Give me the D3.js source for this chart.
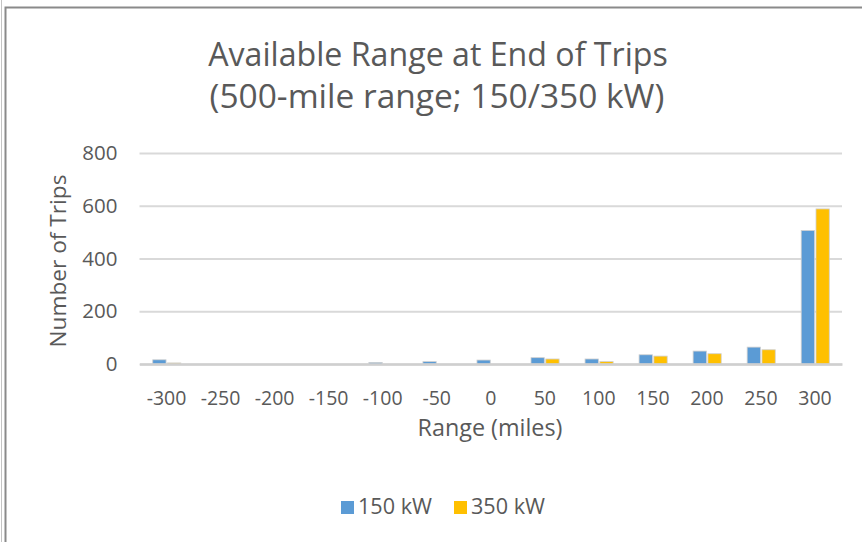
<!DOCTYPE html>
<html><head><meta charset="utf-8">
<script src="https://cdn.jsdelivr.net/npm/d3@7"></script>
<style>
html,body{margin:0;padding:0;background:#fff;}
svg{display:block;}
text{font-family:"Open Sans",Lato,sans-serif;fill:#595959;}
</style></head>
<body>
<svg id="chart" width="862" height="542"></svg>
<script>
const categories = ["-300","-250","-200","-150","-100","-50","0","50","100","150","200","250","300"];
const seriesNames = ["150 kW","350 kW"];
const values150 = [16,0,0,0,6,9,15,24,19,35,49,64,506];
const values350 = [4,0,0,0,0,0,0,19,9,30,39,54,588];
const yTicks = [0,200,400,600,800];
const titleLines = ["Available Range at End of Trips","(500-mile range; 150/350 kW)"];
const xTitle = "Range (miles)";
const yTitle = "Number of Trips";
const colors = ["#5B9BD5","#FFC000"];

const svg = d3.select("#chart");
const W = 862, H = 542;

// frame
svg.append("line").attr("x1",1.5).attr("x2",1.5).attr("y1",0).attr("y2",H).attr("stroke","#c4c4c4").attr("stroke-width",1);
svg.append("path").attr("d",`M5.5,${H}V7.5H${W}`).attr("fill","none").attr("stroke","#8a8a8a").attr("stroke-width",2);

function fit(sel, target){
  const w = sel.node().getComputedTextLength();
  const fs = parseFloat(sel.attr("font-size"));
  sel.attr("font-size", fs*target/w);
}

// title
const t1 = svg.append("text").attr("x",438).attr("y",66).attr("text-anchor","middle").attr("font-size",30).text(titleLines[0]);
fit(t1, 460);
const t2 = svg.append("text").attr("x",437).attr("y",108).attr("text-anchor","middle").attr("font-size",30).text(titleLines[1]);
fit(t2, 455);

const plot = {left:139.5, right:842, top:153, bottom:364};
const y = d3.scaleLinear().domain([0,800]).range([plot.bottom, plot.top]);
const x = d3.scaleBand().domain(categories).range([plot.left, plot.right]).padding(0);
const bw = x.bandwidth();
const x1 = d3.scaleBand().domain(seriesNames).range([bw*0.245, bw*0.765]).paddingInner(0.1);

// gridlines
const yAxis = d3.axisLeft(y).tickValues(yTicks).tickSize(-(plot.right-plot.left)).tickPadding(22);
const gy = svg.append("g").attr("transform",`translate(${plot.left},0)`).call(yAxis);
gy.select(".domain").remove();
gy.selectAll(".tick line").attr("stroke","#d9d9d9").attr("stroke-width",2);
gy.selectAll(".tick text").attr("font-size",20.5).attr("fill","#595959").attr("font-family","'Open Sans',sans-serif");

// bars
const data = [values150, values350];
data.forEach((vals,si)=>{
  svg.append("g").selectAll("rect").data(vals).join("rect")
    .attr("x",(d,i)=>x(categories[i])+x1(seriesNames[si]))
    .attr("width",x1.bandwidth())
    .attr("y",d=>y(d))
    .attr("height",d=>plot.bottom-y(d))
    .attr("fill",colors[si])
    .attr("stroke",d=>d>0?"#d0d0d0":"none")
    .attr("stroke-width",0.8);
});

// x axis
const xAxis = d3.axisBottom(x).tickSize(0).tickPadding(24);
const gx = svg.append("g").attr("transform",`translate(0,${plot.bottom})`).call(xAxis);
gx.select(".domain").attr("stroke","#cfcfcf").attr("stroke-width",2.5);
gx.selectAll(".tick text").attr("font-size",19.5).attr("fill","#595959").attr("font-family","'Open Sans',sans-serif").attr("dy","0.71em").attr("y",27);

// axis titles
const xt = svg.append("text").attr("x",490).attr("y",436).attr("text-anchor","middle").attr("font-size",20).text(xTitle);
fit(xt,145);
const yt = svg.append("text").attr("transform","translate(66,261) rotate(-90)").attr("text-anchor","middle").attr("font-size",20).text(yTitle);
fit(yt,173);

// legend
const legX = [341, 454];
seriesNames.forEach((s,i)=>{
  svg.append("rect").attr("x",legX[i]).attr("y",501).attr("width",13).attr("height",13).attr("fill",colors[i]);
  const lt = svg.append("text").attr("x",legX[i]+17).attr("y",514).attr("font-size",20).text(s);
  fit(lt, 74);
});
</script>
</body></html>
